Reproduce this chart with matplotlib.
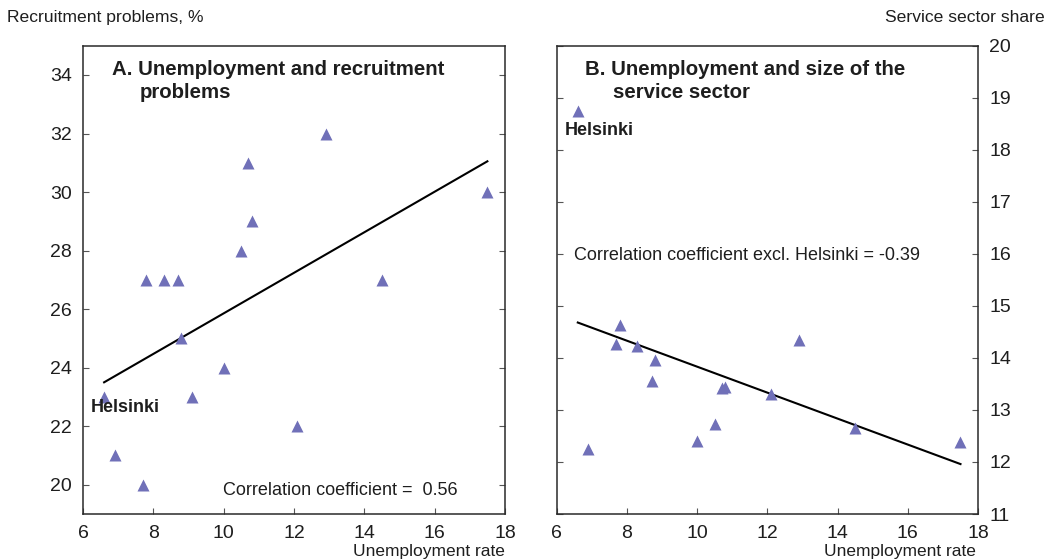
import matplotlib

matplotlib.use('agg')
import matplotlib.pyplot as plt

plt.rcParams['font.family'] = ['Liberation Sans', 'DejaVu Sans']

# unemployment rate per region (same for both panels), Helsinki first
unemp = [6.6, 6.9, 7.7, 7.8, 8.3, 8.7, 8.8, 9.1, 10.0, 10.5, 10.7, 10.8, 12.1, 12.9, 14.5, 17.5]
recruit = [23, 21, 20, 27, 27, 27, 25, 23, 24, 28, 31, 29, 22, 32, 27, 30]

# panel B has its own x values
unemp_b = [6.6, 6.9, 7.7, 7.8, 8.3, 8.7, 8.8, 10.0, 10.5, 10.7, 10.8, 12.1, 12.9, 14.5, 17.5]
service = [18.75, 12.25, 14.26, 14.63, 14.23, 13.56, 13.96, 12.40, 12.73, 13.43, 13.45, 13.31, 14.34, 12.65, 12.39]

# trend lines as drawn in the original
fit_a_x = [6.6, 17.5]
fit_a_y = [23.5, 31.05]
fit_b_x = [6.6, 17.5]
fit_b_y = [14.68, 11.96]

x_ticks = [6, 8, 10, 12, 14, 16, 18]
a_ticks = [20, 22, 24, 26, 28, 30, 32, 34]
b_ticks = [11, 12, 13, 14, 15, 16, 17, 18, 19, 20]

MARK = '#7070b8'
TXT = '#1e1e1e'

fig = plt.figure(figsize=(10.52, 5.6), dpi=100)
axA = fig.add_axes([0.0789, 0.0821, 0.4011, 0.8363])
axB = fig.add_axes([0.5292, 0.0821, 0.4005, 0.8363])

for ax in (axA, axB):
    for s in ax.spines.values():
        s.set_color('#2a2a2a')
        s.set_linewidth(1.1)
    ax.set_xlim(6, 18)
    ax.set_xticks(x_ticks)
    ax.tick_params(direction='in', length=4, width=0.8, color='#555555',
                   labelsize=14, labelcolor=TXT, pad=8)
    ax.tick_params(axis='y', left=True, right=True)

# panel A
axA.set_ylim(19, 35)
axA.set_yticks(a_ticks)
axA.plot(fit_a_x, fit_a_y, color='black', lw=1.5, zorder=2)
axA.plot(unemp, recruit, '^', color=MARK, ms=8.5, mec='none', zorder=3)
axA.text(0.068, 0.9496, 'A. Unemployment and recruitment', transform=axA.transAxes,
         fontsize=14.7, fontweight='bold', color=TXT, va='center')
axA.text(0.135, 0.9005, 'problems', transform=axA.transAxes,
         fontsize=14.7, fontweight='bold', color=TXT, va='center')
axA.text(6.23, 22.64, 'Helsinki', fontsize=13, fontweight='bold', color=TXT, va='center')
axA.text(9.98, 19.8, 'Correlation coefficient =  0.56', fontsize=13, color=TXT, va='center')

# panel B
axB.set_ylim(11, 20)
axB.set_yticks(b_ticks)
axB.yaxis.tick_right()
axB.tick_params(axis='y', left=True, right=True, labelleft=False, labelright=True)
axB.plot(fit_b_x, fit_b_y, color='black', lw=1.5, zorder=2)
axB.plot(unemp_b, service, '^', color=MARK, ms=8.5, mec='none', zorder=3)
axB.text(0.067, 0.9496, 'B. Unemployment and size of the', transform=axB.transAxes,
         fontsize=14.7, fontweight='bold', color=TXT, va='center')
axB.text(0.134, 0.9005, 'service sector', transform=axB.transAxes,
         fontsize=14.7, fontweight='bold', color=TXT, va='center')
axB.text(6.24, 18.37, 'Helsinki', fontsize=13, fontweight='bold', color=TXT, va='center')
axB.text(6.49, 15.97, 'Correlation coefficient excl. Helsinki = -0.39', fontsize=13,
         color=TXT, va='center')

# axis titles
fig.text(0.0067, 0.968, 'Recruitment problems, %', fontsize=12.6, color=TXT, va='center')
fig.text(0.9933, 0.968, 'Service sector share', fontsize=12.6, color=TXT, va='center', ha='right')
fig.text(0.480, 0.015, 'Unemployment rate', fontsize=12.5, color=TXT, va='center', ha='right')
fig.text(0.928, 0.015, 'Unemployment rate', fontsize=12.5, color=TXT, va='center', ha='right')

fig.savefig('out.png', dpi=100)
plt.close(fig)
